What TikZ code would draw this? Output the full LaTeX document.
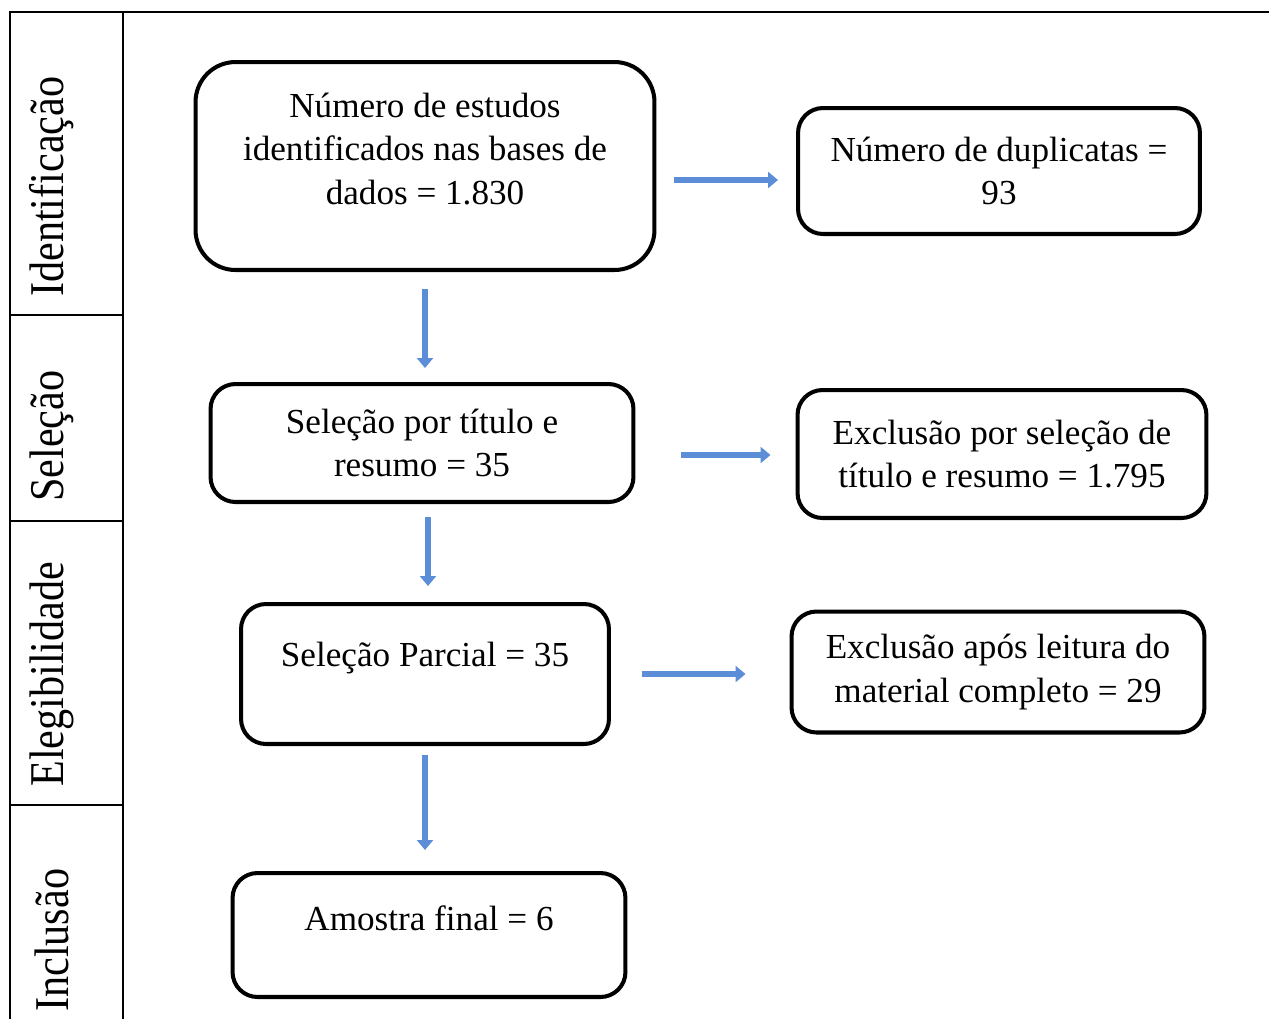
\documentclass[tikz,border=0pt]{standalone}
\usepackage{fontspec}
\setmainfont{Liberation Serif}
\usepackage{graphicx}
\usetikzlibrary{positioning, arrows.meta}
\definecolor{flowblue}{HTML}{5B8ED6}

\begin{document}
\begin{tikzpicture}[x=0.02cm, y=-0.02cm,
    box/.style = {draw, line width=2.3pt, rounded corners=0.5cm, inner sep=0pt,
        align=center, font=\fontsize{20}{24.7}\selectfont},
    boxtext/.style = {align=center, inner sep=0pt, font=\fontsize{20}{24.7}\selectfont},
    flow/.style = {flowblue, line width=3.4pt, -{Triangle[width=0.32cm,length=0.2cm]}},
    phase/.style = {rotate=90, anchor=west, inner sep=0pt, font=\fontsize{24}{28}\selectfont}]
    \useasboundingbox (0,0) rectangle (1269,1019);
    % frame and phase column
    \draw[line width=1.2pt] (10,1019) -- (10,12) -- (1269,12);
    \draw[line width=1.2pt] (123,12) -- (123,1019);
    \foreach \y in {315, 521, 805}
        \draw[line width=0.8pt] (10,\y) -- (123,\y);
    \node[phase] (fase1) at (52,297) {\scalebox{1}[1.15]{Identificação}};
    \node[phase] (fase2) at (52,502) {\scalebox{1}[1.15]{Seleção}};
    \node[phase] (fase3) at (52,787) {\scalebox{1}[1.15]{Elegibilidade}};
    \node[phase] (fase4) at (52,1012) {\scalebox{1}[1.15]{Inclusão}};

    % boxes
    \node[box, rounded corners=0.8cm, minimum width=9.18cm, minimum height=4.16cm] (A) at (425,166) {};
    \node[boxtext] (Atxt) at ([yshift=0.34cm]A.center) {Número de estudos\\identificados nas bases de\\dados = 1.830};
    \node[box, minimum width=8.04cm, minimum height=2.52cm] (B) at (999,171) {Número de duplicatas =\\93};
    \node[box, minimum width=8.46cm, minimum height=2.36cm] (C) at (422,443) {Seleção por título e\\resumo = 35};
    \node[box, minimum width=8.18cm, minimum height=2.56cm] (D) at (1002,454) {Exclusão por seleção de\\título e resumo = 1.795};
    \node[box, minimum width=7.36cm, minimum height=2.8cm] (E) at (425,674) {};
    \node[boxtext] (Etxt) at ([yshift=0.32cm]E.center) {Seleção Parcial = 35};
    \node[box, minimum width=8.26cm, minimum height=2.42cm] (F) at (998,672) {Exclusão após leitura do\\material completo = 29};
    \node[box, minimum width=7.86cm, minimum height=2.48cm] (G) at (429,935) {};
    \node[boxtext] (Gtxt) at ([yshift=0.34cm]G.center) {Amostra final = 6};

    % arrows
    \draw[flow, shorten <=0.36cm, shorten >=0.36cm] ([yshift=-0.28cm]A.east) -- ([yshift=-0.28cm]A.east -| B.west);
    \draw[flow, shorten <=0.92cm, shorten >=0.5cm] ([yshift=-0.24cm]C.east) -- ([yshift=-0.24cm]C.east -| D.west);
    \draw[flow, shorten <=0.62cm, shorten >=0.88cm] (E.east) -- (E.east -| F.west);
    \draw[flow, shorten <=0.34cm, shorten >=0.28cm] (A.south) -- (A.south |- C.north);
    \draw[flow, shorten <=0.26cm, shorten >=0.32cm] ([xshift=0.12cm]C.south) -- ([xshift=0.12cm]C.south |- E.north);
    \draw[flow, shorten <=0.18cm, shorten >=0.42cm] (E.south) -- (E.south |- G.north);
\end{tikzpicture}
\end{document}
